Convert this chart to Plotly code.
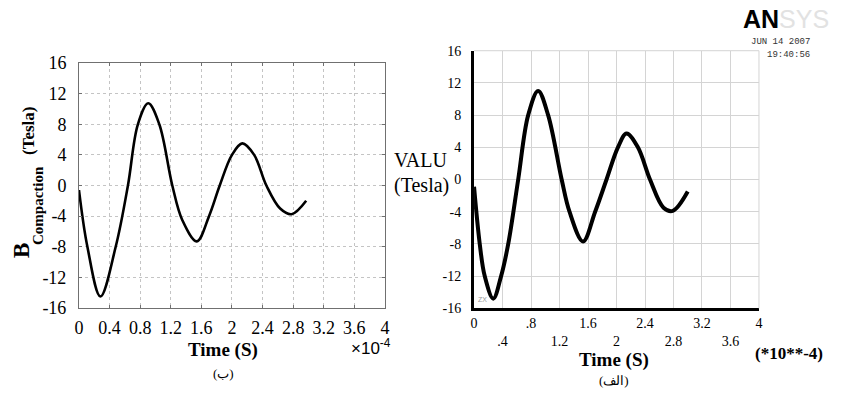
import plotly.graph_objects as go

# Left plot (ب) – MATLAB-style, time in units of 1e-4 s
t_left = [0.0, 0.11, 0.28, 0.48, 0.64, 0.77, 0.906, 1.05, 1.22, 1.35, 1.54, 1.70, 1.84, 2.0,
          2.135, 2.29, 2.45, 2.63, 2.78, 2.97]
b_left = [-0.6, -8.0, -14.5, -8.0, 0.0, 8.0, 10.75, 8.0, 0.0, -4.5, -7.3, -4.0, 0.0, 4.0,
          5.5, 4.0, 0.0, -3.0, -3.75, -2.0]

# Right plot (الف) – ANSYS-style
t_right = [0.0, 0.08, 0.15, 0.27, 0.38, 0.48, 0.62, 0.76, 0.9, 1.04, 1.23, 1.34, 1.53, 1.7,
           1.86, 2.02, 2.14, 2.3, 2.47, 2.66, 2.79, 3.0]
b_right = [-0.9, -8.0, -12.0, -14.8, -12.0, -8.0, 0.0, 8.0, 11.0, 8.0, 0.0, -4.0, -7.7, -4.0,
           0.0, 4.0, 5.7, 4.0, 0.0, -3.5, -3.9, -1.5]

x_tickvals = [0, 0.4, 0.8, 1.2, 1.6, 2.0, 2.4, 2.8, 3.2, 3.6, 4.0]
x_ticktext_left = ["0", "0.4", "0.8", "1.2", "1.6", "2", "2.4", "2.8", "3.2", "3.6", "4"]
x_ticktext_right = ["0", "<br>.4", ".8", "<br>1.2", "1.6", "<br>2", "2.4", "<br>2.8", "3.2", "<br>3.6", "4"]
y_tickvals = [16, 12, 8, 4, 0, -4, -8, -12, -16]
y_ticktext = ["16", "12", "8", "4", "0", "-4", "-8", "-12", "-16"]

SERIF = "Liberation Serif"
SANS = "Liberation Sans"
MONO = "Liberation Mono"

fig = go.Figure()
fig.add_trace(go.Scatter(x=t_left, y=b_left, mode="lines",
                         line=dict(color="black", width=2.6, shape="spline", smoothing=1.0),
                         xaxis="x", yaxis="y", showlegend=False))
fig.add_trace(go.Scatter(x=t_right, y=b_right, mode="lines",
                         line=dict(color="black", width=4, shape="spline", smoothing=1.0),
                         xaxis="x2", yaxis="y2", showlegend=False))

fig.update_layout(
    template="none",
    width=842, height=394, margin=dict(l=0, r=0, t=0, b=0, pad=0), autosize=False,
    paper_bgcolor="white", plot_bgcolor="white",
    font=dict(family=SERIF, color="black"),
    xaxis=dict(domain=[0.0938, 0.4572], range=[0, 4], tickvals=x_tickvals, ticktext=x_ticktext_left,
               showgrid=True, gridcolor="#c4c4c4", griddash="dot", gridwidth=1, zeroline=False,
               showline=True, linecolor="#707070", linewidth=1, mirror="ticks", automargin=False,
               ticks="inside", ticklen=3, tickcolor="#707070",
               tickfont=dict(size=18, family=SERIF), ticklabelstandoff=3, fixedrange=True),
    yaxis=dict(domain=[0.2183, 0.840], range=[-16, 16], tickvals=y_tickvals, ticktext=y_ticktext,
               showgrid=True, gridcolor="#c4c4c4", griddash="dot", gridwidth=1, zeroline=False,
               showline=True, linecolor="#707070", linewidth=1, mirror="ticks", automargin=False,
               ticks="inside", ticklen=3, tickcolor="#707070",
               tickfont=dict(size=18, family=SERIF), ticklabelstandoff=8, fixedrange=True),
    xaxis2=dict(domain=[0.563, 0.9014], range=[0, 4], tickvals=x_tickvals, ticktext=x_ticktext_right,
                showgrid=True, gridcolor="#d4d4d4", gridwidth=1, zeroline=False,
                showline=True, linecolor="black", linewidth=3, mirror=False, ticks="", automargin=False,
                tickfont=dict(size=14, family=SERIF), ticklabelstandoff=0, anchor="y2", fixedrange=True),
    yaxis2=dict(domain=[0.2175, 0.8713], range=[-16, 16], tickvals=y_tickvals, ticktext=y_ticktext,
                showgrid=True, gridcolor="#d4d4d4", gridwidth=1, zeroline=False,
                showline=True, linecolor="black", linewidth=3, mirror=False, ticks="", automargin=False,
                tickfont=dict(size=14, family=SERIF), ticklabelstandoff=7, anchor="x2", fixedrange=True),
)

# top / right borders of the ANSYS plot (light grey grid frame)
fig.add_shape(type="line", xref="x2 domain", yref="y2 domain", x0=0, x1=1, y0=1, y1=1,
              line=dict(color="#d4d4d4", width=1))
fig.add_shape(type="line", xref="x2 domain", yref="y2 domain", x0=1, x1=1, y0=0, y1=1,
              line=dict(color="#d4d4d4", width=1))

ann = []
# Left axis titles (rotated pieces)
ann.append(dict(text="<b>B</b>", textangle=-90, x=21, y=251, showarrow=False, font=dict(size=23, family=SERIF)))
ann.append(dict(text="<b>Compaction</b>", textangle=-90, x=38, y=206, showarrow=False, font=dict(size=15, family=SERIF)))
ann.append(dict(text="<b>(Tesla)</b>", textangle=-90, x=28, y=131, showarrow=False, font=dict(size=17, family=SERIF)))
ann.append(dict(text="<b>Time (S)</b>", x=223, y=350, showarrow=False, font=dict(size=19, family=SERIF)))
ann.append(dict(text="×10<sup>-4</sup>", x=371, y=347, showarrow=False, font=dict(size=17, family=SANS)))
ann.append(dict(text="(ب)", x=223, y=373, showarrow=False, font=dict(size=13, family=SERIF)))
# Right axis titles
ann.append(dict(text="VALU", x=392, y=160, xanchor="left", showarrow=False, font=dict(size=20, family=SERIF)))
ann.append(dict(text="(Tesla)", x=392, y=185, xanchor="left", showarrow=False, font=dict(size=20, family=SERIF)))
ann.append(dict(text="<b>Time (S)</b>", x=614, y=360, showarrow=False, font=dict(size=19, family=SERIF)))
ann.append(dict(text="(الف)", x=614, y=380, showarrow=False, font=dict(size=13, family=SERIF)))
ann.append(dict(text="<b>(*10**-4)</b>", x=789, y=353, showarrow=False, font=dict(size=17, family=SERIF)))
# tiny triad marker
ann.append(dict(text="ZX", x=482, y=299, showarrow=False, font=dict(size=7, family=SANS, color="#9a9a9a")))
# ANSYS logo and date
ann.append(dict(text="<b>AN</b><span style='color:#e2e2e2'>SYS</span>", x=741, y=19, xanchor="left",
                showarrow=False, font=dict(size=25, family=SANS)))
ann.append(dict(text="JUN 14 2007", x=812, y=42, xanchor="right", showarrow=False,
                font=dict(size=9, family=MONO, color="#333")))
ann.append(dict(text="19:40:56", x=812, y=55, xanchor="right", showarrow=False,
                font=dict(size=9, family=MONO, color="#333")))

for a in ann:
    a["xref"] = "paper"
    a["yref"] = "paper"
    a["x"] = a["x"] / 842
    a["y"] = 1 - a["y"] / 394
    a.setdefault("xanchor", "center")
    a.setdefault("yanchor", "middle")
fig.update_layout(annotations=ann)

fig.write_html("out.html")
